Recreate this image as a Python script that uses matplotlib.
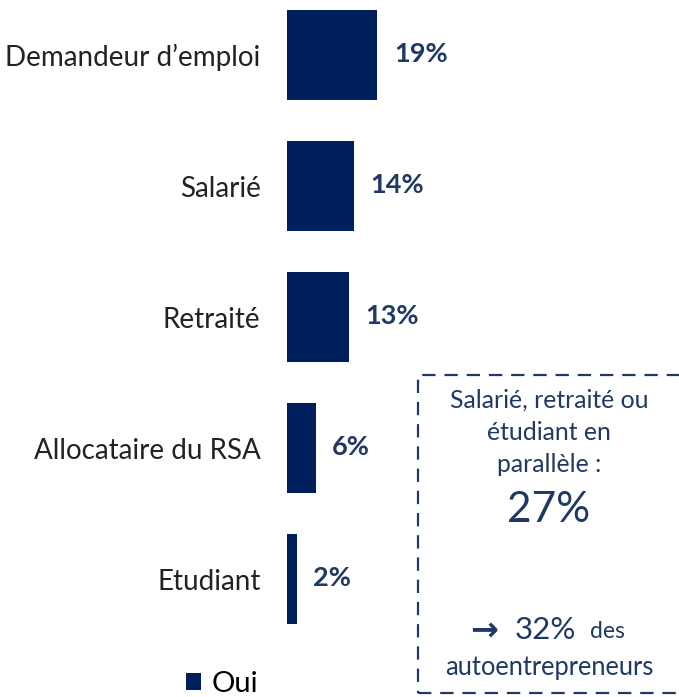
import numpy as np
import matplotlib.pyplot as plt
from matplotlib.patches import Rectangle

# data
categories = ["Demandeur d\u2019emploi", "Salarié", "Retraité", "Allocataire du RSA", "Etudiant"]
values = [19, 14, 13, 6, 2]
series_name = "Oui"

navy = "#00205B"
text_navy = "#1F3864"
plt.rcParams['font.family'] = ['Lato', 'DejaVu Sans']

W, H = 679, 697
fig = plt.figure(figsize=(W / 100, H / 100), dpi=100)

# axes placed in pixel terms: bars start at x=287, pitch 131px
ax = fig.add_axes([287 / W, 47 / H, (W - 287) / W, 650 / H])
y = np.arange(len(categories))
bars = ax.barh(y, values, height=0.69, color=navy, label=series_name)
ax.set_ylim(650 / 131 - 55 / 131, -55 / 131)
ax.set_xlim(0, (W - 287) / 4.75)

ax.set_yticks(y)
ax.set_yticklabels(categories, fontsize=20, color="#222222")
ax.tick_params(axis='y', length=0, pad=19)
ax.set_xticks([])
for s in ax.spines.values():
    s.set_visible(False)

for b, v in zip(bars, values):
    ax.annotate(f"{v}%", (b.get_width(), b.get_y() + b.get_height() / 2),
                xytext=(12, 1), textcoords='offset points', va='center', ha='left',
                fontsize=19.5, fontweight='bold', color=text_navy)

# legend
fig.legend(handles=[bars], labels=[series_name], loc='center left',
           bbox_to_anchor=(186 / W, 1 - 684 / H), frameon=False, fontsize=21,
           handlelength=0.52, handleheight=0.52, handletextpad=0.35, borderaxespad=0,
           borderpad=0)

# dashed callout box
box = Rectangle((418 / W, 1 - 693 / H), (W + 10 - 418) / W, (693 - 375) / H,
                transform=fig.transFigure, fill=False, edgecolor=text_navy,
                linestyle=(0, (6, 4)), linewidth=1.6, clip_on=False)
fig.patches.append(box)

cx = 549 / W
fig.text(cx, 1 - 400 / H, "Salarié, retraité ou", ha='center', va='center', fontsize=17.8, color=text_navy)
fig.text(cx, 1 - 433 / H, "étudiant en", ha='center', va='center', fontsize=17.8, color=text_navy)
fig.text(cx, 1 - 465 / H, "parallèle :", ha='center', va='center', fontsize=17.8, color=text_navy)
fig.text(cx, 1 - 510 / H, "27%", ha='center', va='center', fontsize=30.5, color=text_navy)
fig.text(470 / W, 1 - 630 / H, "\u2192", ha='left', va='center', fontsize=24,
         color=text_navy, fontweight='bold', family='DejaVu Sans')
fig.text(515 / W, 1 - 630 / H, "32%", ha='left', va='center', fontsize=22.5, color=text_navy)
fig.text(590 / W, 1 - 632 / H, "des", ha='left', va='center', fontsize=16.5, color=text_navy)
fig.text(cx, 1 - 667 / H, "autoentrepreneurs", ha='center', va='center', fontsize=18.4, color=text_navy)

fig.savefig("out.png", dpi=100)
